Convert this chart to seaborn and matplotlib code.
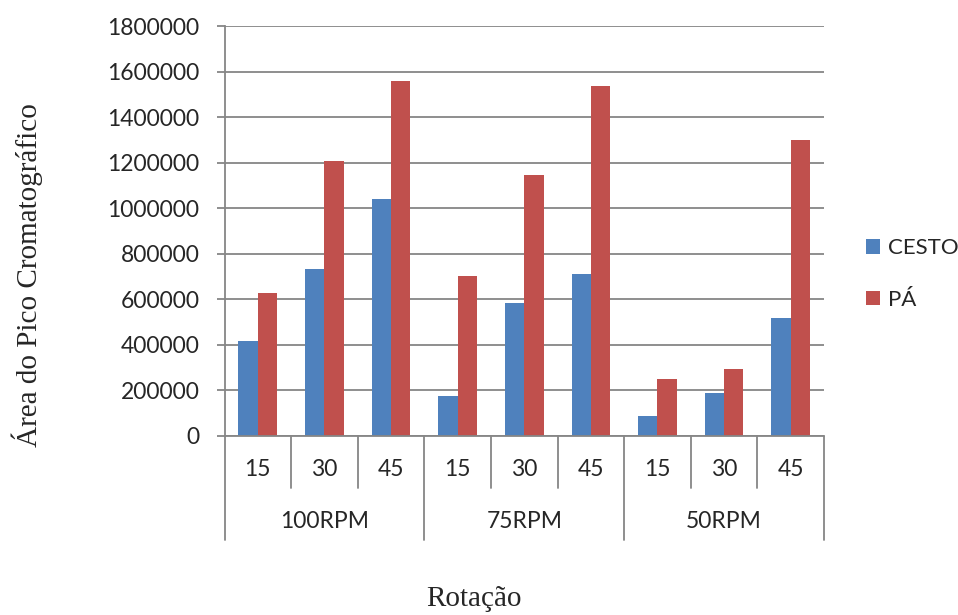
import matplotlib
matplotlib.use("Agg")
import matplotlib.pyplot as plt
import matplotlib.transforms as mtransforms
from matplotlib.patches import Patch
import seaborn as sns
import pandas as pd

# ---- data ----
groups = ["100RPM", "75RPM", "50RPM"]
times = ["15", "30", "45"]
series = ["CESTO", "PÁ"]
cesto = [417000, 733000, 1040000, 177000, 582000, 711000, 88000, 187000, 517000]
pa = [626000, 1206000, 1560000, 701000, 1146000, 1538000, 249000, 294000, 1298000]

colors = ["#4F81BD", "#C0504D"]

positions = [f"{g}-{t}" for g in groups for t in times]
df = pd.DataFrame({
    "pos": positions * 2,
    "serie": [series[0]] * len(positions) + [series[1]] * len(positions),
    "valor": cesto + pa,
})

sns.set_style("white")
plt.rcParams["font.family"] = ["Lato", "DejaVu Sans"]

fig = plt.figure(figsize=(9.58, 6.15), dpi=100)
W, H = 958, 615
x0, x1, ytop, ybot = 224.5, 824, 26, 436
ax = fig.add_axes([x0 / W, 1 - ybot / H, (x1 - x0) / W, (ybot - ytop) / H])

sns.barplot(data=df, x="pos", y="valor", hue="serie", order=positions,
            hue_order=series, palette=colors, width=0.58, gap=0,
            linewidth=0, saturation=1, ax=ax, legend=False, errorbar=None)

grid_c = "#868686"
ax.set_ylim(0, 1800000)
ax.set_xlim(-0.5, len(positions) - 0.5)
ax.set_yticks(range(0, 1800001, 200000))
ax.set_yticklabels([str(v) for v in range(0, 1800001, 200000)], fontsize=16.5)
ax.yaxis.grid(True, color=grid_c, linewidth=1.3)
ax.set_axisbelow(True)
for s in ["top", "right", "bottom"]:
    ax.spines[s].set_visible(False)
ax.spines["left"].set_color(grid_c)
ax.spines["left"].set_linewidth(1.3)
ax.tick_params(axis="y", length=6, width=1.3, color=grid_c, pad=12, left=True)
ax.set_xticks([])
ax.set_xlabel("")
ax.set_ylabel("")

# bottom axis line
ax.axhline(0, color=grid_c, linewidth=1.3, zorder=3, clip_on=False)

# category table
trans = mtransforms.blended_transform_factory(ax.transData, ax.transAxes)
inner_end = -(488 - ybot) / (ybot - ytop)
outer_end = -(540 - ybot) / (ybot - ytop)
for i in range(len(positions) + 1):
    b = i - 0.5
    end = outer_end if i % 3 == 0 else inner_end
    ax.plot([b, b], [0, end], color=grid_c, linewidth=1.3, transform=trans,
            clip_on=False)
for i, p in enumerate(positions):
    ax.text(i, -(470 - ybot) / (ybot - ytop), times[i % 3], transform=trans,
            ha="center", va="center", fontsize=16.5)
for j, g in enumerate(groups):
    ax.text(3 * j + 1, -(522 - ybot) / (ybot - ytop), g, transform=trans,
            ha="center", va="center", fontsize=16.5)

# legend
handles = [Patch(facecolor=c, edgecolor="none", label=s) for c, s in zip(colors, series)]
fig.legend(handles=handles, loc="center left", bbox_to_anchor=(866 / W, 1 - 274 / H),
           frameon=False, fontsize=16, handlelength=0.62, handleheight=0.62,
           handletextpad=0.35, labelspacing=1.4, borderpad=0, borderaxespad=0)

# axis titles
fig.text(27 / W, 1 - 275 / H, "Área do Pico Cromatográfico", rotation=90,
         ha="center", va="center", fontsize=21,
         family=["Liberation Serif", "DejaVu Serif"])
fig.text(474 / W, 1 - 599 / H, "Rotação", ha="center", va="center",
         fontsize=21, family=["Liberation Serif", "DejaVu Serif"])

fig.savefig("out.png", dpi=100)
